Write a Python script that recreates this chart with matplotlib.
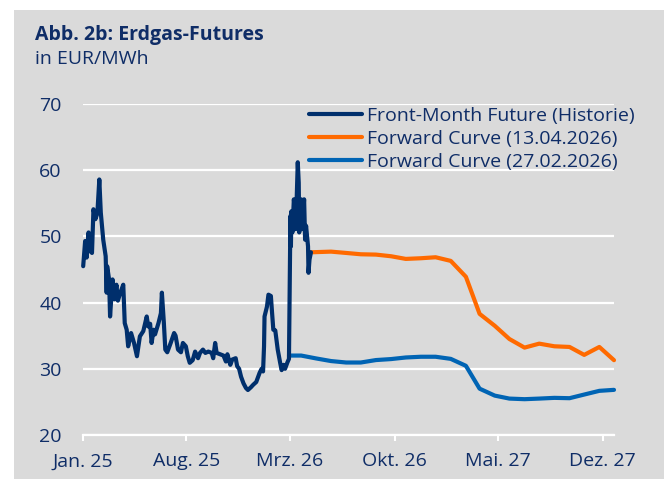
import matplotlib
matplotlib.use('Agg')
import matplotlib.pyplot as plt
import pandas as pd
from matplotlib.patches import Rectangle

plt.rcParams['font.family'] = ['Open Sans', 'DejaVu Sans']

# Front-Month Future (Historie), EUR/MWh
hist_dates = [
    '2025-01-02', '2025-01-06', '2025-01-09', '2025-01-13', '2025-01-16', '2025-01-20',
    '2025-01-23', '2025-01-27', '2025-01-31', '2025-02-04', '2025-02-07', '2025-02-12',
    '2025-02-17', '2025-02-19', '2025-02-20', '2025-02-24', '2025-02-26', '2025-03-03',
    '2025-03-07', '2025-03-11', '2025-03-14', '2025-03-19', '2025-03-25', '2025-03-28',
    '2025-04-01', '2025-04-04', '2025-04-10', '2025-04-16', '2025-04-22', '2025-04-28',
    '2025-05-05', '2025-05-12', '2025-05-15', '2025-05-19', '2025-05-22', '2025-05-26',
    '2025-05-29', '2025-06-05', '2025-06-10', '2025-06-12', '2025-06-16', '2025-06-19',
    '2025-06-23', '2025-06-30', '2025-07-07', '2025-07-10', '2025-07-15', '2025-07-21',
    '2025-07-25', '2025-07-31', '2025-08-04', '2025-08-08', '2025-08-14', '2025-08-19',
    '2025-08-25', '2025-08-29', '2025-09-04', '2025-09-09', '2025-09-15', '2025-09-22',
    '2025-09-25', '2025-09-29', '2025-10-02', '2025-10-09', '2025-10-16', '2025-10-21',
    '2025-10-24', '2025-10-30', '2025-11-03', '2025-11-10', '2025-11-13', '2025-11-17',
    '2025-11-21', '2025-11-26', '2025-12-01', '2025-12-05', '2025-12-11', '2025-12-16',
    '2025-12-22', '2025-12-29', '2026-01-02', '2026-01-05', '2026-01-07', '2026-01-08',
    '2026-01-13', '2026-01-16', '2026-01-21', '2026-01-23', '2026-01-26', '2026-01-30',
    '2026-02-04', '2026-02-09', '2026-02-12', '2026-02-16', '2026-02-19', '2026-02-24',
    '2026-02-27', '2026-03-02', '2026-03-03', '2026-03-04', '2026-03-06', '2026-03-09',
    '2026-03-11', '2026-03-13', '2026-03-17', '2026-03-19', '2026-03-20', '2026-03-24',
    '2026-03-26', '2026-03-30', '2026-04-01', '2026-04-03', '2026-04-07', '2026-04-08',
    '2026-04-10', '2026-04-13',
]
hist_values = [
    45.5, 49.3, 46.8, 50.6, 47.8, 47.5,
    54.1, 52.6, 53.5, 58.6, 53.6, 49.5,
    47.0, 41.5, 45.5, 43.5, 37.9, 43.5,
    40.5, 42.7, 40.3, 41.5, 42.7, 36.9,
    35.9, 33.4, 35.4, 33.9, 31.9, 34.9,
    35.7, 37.9, 36.4, 36.8, 33.9, 35.9,
    35.2, 36.9, 38.4, 41.5, 37.0, 32.9,
    32.5, 33.9, 35.4, 35.0, 32.9, 32.5,
    33.9, 33.4, 31.9, 30.9, 31.3, 32.6,
    31.6, 32.4, 32.9, 32.4, 32.6, 32.4,
    31.6, 33.9, 32.4, 32.2, 32.0, 31.1,
    32.2, 30.6, 31.4, 31.6, 30.4, 30.0,
    28.8, 27.8, 27.1, 26.8, 27.2, 27.6,
    28.0, 29.4, 30.0, 29.6, 33.4, 37.9,
    39.4, 41.2, 41.0, 38.9, 35.9, 35.8,
    32.9, 30.9, 29.8, 30.6, 30.0, 31.0,
    31.5, 53.1, 48.5, 53.8, 50.6, 55.6,
    54.1, 51.1, 61.2, 58.1, 50.6, 55.6,
    51.1, 55.6, 49.5, 51.6, 48.5, 44.5,
    46.5, 47.6,
]

# Forward Curve (13.04.2026): trade date, then May 2026 .. Dec 2027
fwd_apr_dates = ['2026-04-13'] + [f'{y}-{m:02d}-24' for y, m in
                                  [(2026, m) for m in range(5, 13)] + [(2027, m) for m in range(1, 13)]]
fwd_apr_values = [47.6, 47.7, 47.5, 47.3, 47.25, 47.0, 46.6, 46.7, 46.85, 46.3, 43.9,
                  38.3, 36.5, 34.5, 33.2, 33.8, 33.4, 33.3, 32.1, 33.3, 31.3]

# Forward Curve (27.02.2026): trade date, then Mar 2026 .. Dec 2027
fwd_feb_dates = ['2026-02-27'] + [f'{y}-{m:02d}-24' for y, m in
                                  [(2026, m) for m in range(3, 13)] + [(2027, m) for m in range(1, 13)]]
fwd_feb_values = [32.0, 32.0, 31.56, 31.17, 30.95, 30.95, 31.32, 31.47, 31.71, 31.82, 31.82,
                  31.5, 30.45, 27.0, 25.95, 25.5, 25.41, 25.5, 25.61, 25.56, 26.11, 26.67, 26.82]

tick_dates = ['2025-01-01', '2025-08-01', '2026-03-01', '2026-10-01', '2027-05-01', '2027-12-01']
tick_labels = ['Jan. 25', 'Aug. 25', 'Mrz. 26', 'Okt. 26', 'Mai. 27', 'Dez. 27']

navy = '#002f6c'
txt = '#0f2d67'
orange = '#ff6a00'
blue = '#0064b4'
grey = '#dadada'
fs = 14

fig = plt.figure(figsize=(6.64, 4.79), dpi=100)
fig.patch.set_facecolor('white')
fig.patches.append(Rectangle((14 / 664, 0), 1, 1 - 10 / 479, transform=fig.transFigure,
                             facecolor=grey, edgecolor='none', zorder=-10))

ax = fig.add_axes([82.7 / 664, 1 - 435 / 479, (614 - 82.7) / 664, (435 - 104) / 479])
ax.set_zorder(2)
ax.set_facecolor('none')

lw = 3.0
ax.plot(pd.to_datetime(hist_dates), hist_values, color=navy, lw=lw,
        solid_joinstyle='round', solid_capstyle='round', label='Front-Month Future (Historie)',
        zorder=4, clip_on=False)
ax.plot(pd.to_datetime(fwd_apr_dates), fwd_apr_values, color=orange, lw=lw,
        solid_joinstyle='round', solid_capstyle='round', label='Forward Curve (13.04.2026)',
        zorder=3, clip_on=False)
ax.plot(pd.to_datetime(fwd_feb_dates), fwd_feb_values, color=blue, lw=lw,
        solid_joinstyle='round', solid_capstyle='round', label='Forward Curve (27.02.2026)',
        zorder=3, clip_on=False)

ax.set_xlim(pd.Timestamp('2025-01-01'), pd.Timestamp('2027-12-24'))
ax.set_ylim(20, 70)
ax.set_yticks(range(20, 71, 10))
ax.yaxis.grid(True, color='white', lw=1.6)
ax.set_axisbelow(True)
for s in ['top', 'right', 'left']:
    ax.spines[s].set_visible(False)
ax.spines['bottom'].set_color('white')
ax.spines['bottom'].set_linewidth(1.6)
ax.spines['bottom'].set_zorder(1)

ax.set_xticks(pd.to_datetime(tick_dates))
ax.set_xticklabels(tick_labels)
ax.tick_params(axis='x', direction='out', length=4.5, width=1.5, color='white',
               labelcolor=txt, labelsize=fs, pad=8)
ax.tick_params(axis='y', length=0, labelcolor=txt, labelsize=fs, pad=15)

fig.text(35 / 664, 1 - 40 / 479, 'Abb. 2b: Erdgas-Futures', fontsize=fs, fontweight='bold',
         color=txt, va='baseline', ha='left')
fig.text(35 / 664, 1 - 64 / 479, 'in EUR/MWh', fontsize=fs, color=txt, va='baseline', ha='left')

leg = fig.legend(loc='upper left', bbox_to_anchor=(309 / 664, 1 - 107 / 479), frameon=False,
                 fontsize=fs, handlelength=2.7, handletextpad=0.3, labelspacing=0.25,
                 borderpad=0, borderaxespad=0)
leg.set_zorder(5)
for t in leg.get_texts():
    t.set_color(txt)
for h in leg.get_lines():
    h.set_linewidth(lw)
    h.set_solid_capstyle('round')

fig.savefig('out.png', dpi=100, facecolor=fig.get_facecolor())
